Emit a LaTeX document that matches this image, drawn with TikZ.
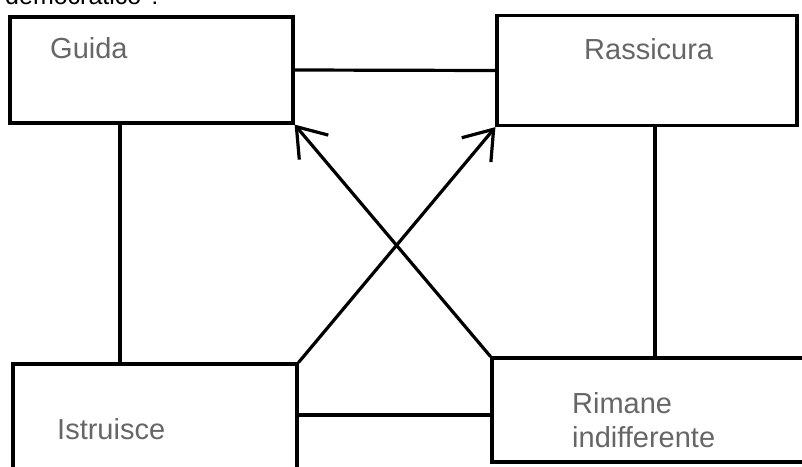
\documentclass[tikz,border=0pt]{standalone}
\usepackage{fontspec}
\setmainfont{Liberation Sans}
\usetikzlibrary{arrows.meta}
\definecolor{labelgray}{HTML}{666666}
\tikzset{
  box/.style={draw=black, line width=3.2pt, rectangle, inner sep=0pt, fill=none},
  conn/.style={draw=black, line width=3.2pt, line cap=round, line join=round},
  arr/.style={conn, -{Straight Barb[length=27pt,width=38pt,line width=3.2pt]}},
  lbl/.style={text=labelgray, font=\fontsize{29}{34}\selectfont, inner sep=0pt, anchor=base west, align=left},
}
\begin{document}
\begin{tikzpicture}[x=1pt,y=-1pt]
\useasboundingbox (0,0) rectangle (802,466);
% partly visible title
\node[font=\fontsize{25}{30}\selectfont, inner sep=0pt, anchor=base west] (title) at (5,4) {democratico ?};
% boxes
\node[box, minimum width=283pt, minimum height=106pt] (guida) at (151.5,70) {};
\node[box, minimum width=300pt, minimum height=110pt] (rass) at (647,70.5) {};
\node[box, minimum width=284pt, minimum height=120pt] (istr) at (155,424) {};
\node[box, minimum width=320pt, minimum height=104pt] (rim) at (652,410) {};
% labels
\node[lbl] (tguida) at (50,58) {Guida};
\node[lbl] (trass) at (584,59) {Rassicura};
\node[lbl] (tistr) at (57,439) {Istruisce};
\node[lbl] (trim1) at (572,413) {Rimane};
\node[lbl] (trim2) at (572,447) {indifferente};
% helper coordinates
\coordinate (xl) at (120,0);
\coordinate (xr) at (655,0);
\coordinate (yb) at (0,415);
% connectors
\draw[conn] (guida.east) -- (rass.west);
\draw[conn] (guida.south -| xl) -- (istr.north -| xl);
\draw[conn] (rass.south -| xr) -- (rim.north -| xr);
\draw[conn] (istr.east |- yb) -- (rim.west |- yb);
\draw[arr] (rim.north west) -- (guida.south east);
\draw[arr] (istr.north east) -- (rass.south west);
\end{tikzpicture}
\end{document}
